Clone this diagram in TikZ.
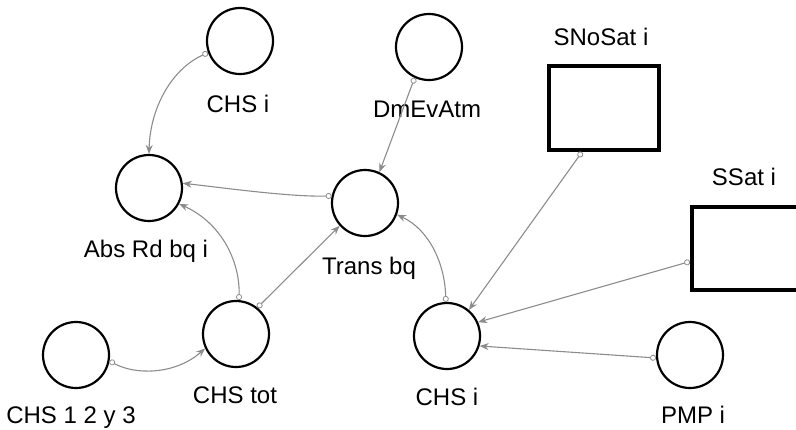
\documentclass[tikz,border=0pt]{standalone}
\usepackage{fontspec}
\setmainfont{Liberation Sans}
\usetikzlibrary{arrows.meta}
\begin{document}
\begin{tikzpicture}[x=1pt,y=-1pt,
  varcirc/.style={circle,draw=black,line width=2.2pt,minimum size=66pt,inner sep=0pt},
  levelbox/.style={rectangle,draw=black,line width=4pt,inner sep=0pt},
  lbl/.style={anchor=base,inner sep=0pt,font=\fontsize{24}{28}\selectfont},
  conn/.style={draw=black!45,line width=1.1pt,
    {Circle[open,length=6pt,width=6pt,line width=0.8pt]}-{Stealth[length=9pt,width=7pt]}}
]
\useasboundingbox (0,0) rectangle (796,429);
\begin{scope}
\clip (0,0) rectangle (796,429);
% variables
\node[varcirc] (chsA) at (240,41) {};
\node[varcirc] (dmev) at (429,47) {};
\node[varcirc] (abs) at (149,188) {};
\node[varcirc] (trans) at (365,203) {};
\node[varcirc] (tot) at (236,334) {};
\node[varcirc] (c123) at (76,355) {};
\node[varcirc] (chsB) at (447,336) {};
\node[varcirc] (pmp) at (690,355) {};
% levels
\node[levelbox,minimum width=110pt,minimum height=84pt] (snosat) at (604,108) {};
\node[levelbox,minimum width=160pt,minimum height=83pt] (ssat) at (772,248.5) {};
\end{scope}
% labels
\node[lbl] (lchsA) at (238,112) {CHS i};
\node[lbl] (ldmev) at (427,117) {DmEvAtm};
\node[lbl] (lsnosat) at (601,45) {SNoSat i};
\node[lbl] (lssat) at (744,185) {SSat i};
\node[lbl] (labs) at (146,257) {Abs Rd bq i};
\node[lbl] (ltrans) at (369,274) {Trans bq};
\node[lbl] (ltot) at (235,403) {CHS tot};
\node[lbl] (lc123) at (71,423) {CHS 1 2 y 3};
\node[lbl] (lchsB) at (447,405) {CHS i};
\node[lbl] (lpmp) at (693,423) {PMP i};
% connectors
\draw[conn] (chsA.200) .. controls (170,70) and (150,110) .. (abs.90);
\draw[conn] (trans.168) .. controls (290,197) and (225,188) .. (abs.8);
\draw[conn] (tot.85) .. controls (240,260) and (220,222) .. (abs.332);
\draw[conn] (tot.51) -- (trans.222);
\draw[conn] (dmev.245) -- (trans.65);
\draw[conn] (chsB.92) .. controls (445,265) and (430,230) .. (trans.340);
\draw[conn] (snosat.south) ++(-22,0) coordinate (snb) (snb) -- (chsB.50);
\draw[conn] (ssat.west) ++(0,13) coordinate (ssw) (ssw) -- (chsB.24);
\draw[conn] (pmp.185) -- (chsB.343);
\draw[conn] (c123.350) .. controls (135,375) and (175,375) .. (tot.205);
\end{tikzpicture}
\end{document}
